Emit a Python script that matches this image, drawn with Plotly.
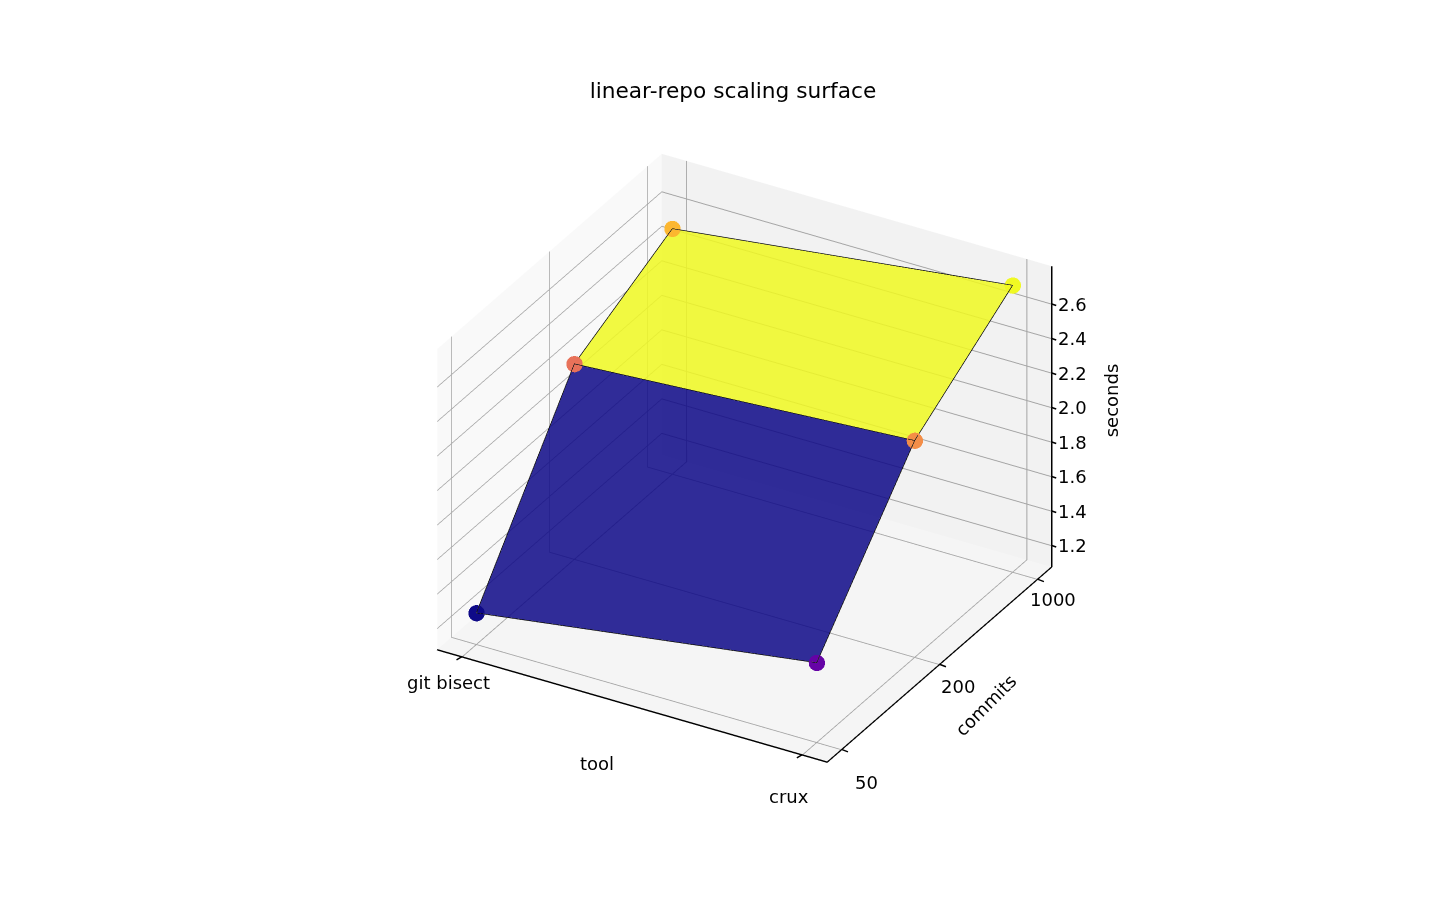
import plotly.graph_objects as go

tools = ["git bisect", "crux"]
commits = ["50", "200", "1000"]
seconds_bisect = [1.26, 2.21, 2.50]
seconds_crux = [1.54, 2.334, 2.74]
z_ticks = [1.2, 1.4, 1.6, 1.8, 2.0, 2.2, 2.4, 2.6]

x_range = [-0.073, 1.073]
y_range = [-0.146, 2.146]
z_range = [1.077, 2.82]

tool_pos = list(range(len(tools)))
commit_pos = list(range(len(commits)))

xs, ys, zs = [], [], []
for c in commit_pos:
    for t, col in zip(tool_pos, [seconds_bisect, seconds_crux]):
        xs.append(t)
        ys.append(c)
        zs.append(col[c])

fig = go.Figure()

# two quads, each split in two triangles, coloured by height like the original
fig.add_trace(go.Mesh3d(
    x=xs, y=ys, z=zs,
    i=[0, 1, 2, 3],
    j=[1, 3, 3, 5],
    k=[2, 2, 4, 4],
    facecolor=["#0d0887", "#0d0887", "#f0f921", "#f0f921"],
    opacity=0.85,
    flatshading=True,
    lighting=dict(ambient=1, diffuse=0, specular=0, roughness=1, fresnel=0),
    hoverinfo="skip",
))

# edges of the surface
edge_order = [0, 1, 3, 2, 0, None, 2, 4, 5, 3]
fig.add_trace(go.Scatter3d(
    x=[None if n is None else xs[n] for n in edge_order],
    y=[None if n is None else ys[n] for n in edge_order],
    z=[None if n is None else zs[n] for n in edge_order],
    mode="lines",
    line=dict(color="black", width=1.5),
    hoverinfo="skip",
))

# z spine sits on the right hand corner, plotly would put it on the left
fig.add_trace(go.Scatter3d(
    x=[x_range[1], x_range[1]],
    y=[y_range[1], y_range[1]],
    z=z_range,
    mode="lines",
    line=dict(color="black", width=3),
    hoverinfo="skip",
))

fig.add_trace(go.Scatter3d(
    x=xs, y=ys, z=zs,
    mode="markers",
    marker=dict(size=9.5, color=zs, colorscale="Plasma", line=dict(width=0), opacity=0.99),
))

tick_font = dict(family="DejaVu Sans", size=18, color="black")


def label(x, y, z, text, dx, dy, angle=0):
    return dict(x=x, y=y, z=z, text=text, showarrow=False, xshift=dx, yshift=-dy,
                xanchor="center", yanchor="middle", textangle=angle, font=tick_font)


def tick(x, y, z, dx, dy):
    return dict(x=x, y=y, z=z, text="", showarrow=True, arrowhead=0, arrowwidth=1.5,
                arrowcolor="black", standoff=0, ax=dx, ay=dy)


# pixel offsets of the tick labels from their axis, per label
tool_offsets = [(-14, 26), (-13, 42)]
commit_offsets = [(25, 33), (19, 22), (16, 20)]

notes = []
for pos, name, off in zip(tool_pos, tools, tool_offsets):
    notes.append(tick(pos, y_range[0], z_range[0], -7, 4))
    notes.append(label(pos, y_range[0], z_range[0], name, *off))
for pos, name, off in zip(commit_pos, commits, commit_offsets):
    notes.append(tick(x_range[1], pos, z_range[0], 8, 3))
    notes.append(label(x_range[1], pos, z_range[0], name, *off))
for val in z_ticks:
    notes.append(tick(x_range[1], y_range[1], val, 6, 2))
    notes.append(label(x_range[1], y_range[1], val, f"{val:.1f}", 21, 0))
notes.append(label(0.5, y_range[0], z_range[0], "tool", -35, 58))
notes.append(label(x_range[1], 1, z_range[0], "commits", 46, 41, -45))
notes.append(label(x_range[1], y_range[1], 2.0, "seconds", 60, -7, -90))

axis_common = dict(
    showbackground=True,
    gridcolor="#a4a4a4",
    gridwidth=2,
    zeroline=False,
    showticklabels=False,
    ticks="",
    title=dict(text=""),
    showspikes=False,
)

fig.update_layout(
    width=1430,
    height=910,
    paper_bgcolor="white",
    showlegend=False,
    font=dict(family="DejaVu Sans", size=18, color="black"),
    margin=dict(l=0, r=0, t=0, b=0),
    title=dict(text="linear-repo scaling surface", x=0.507, y=0.909, xanchor="center", yanchor="middle",
               font=dict(family="DejaVu Sans", size=21.7, color="black")),
    scene=dict(
        domain=dict(x=[0.03, 1], y=[0.0114, 1]),
        aspectmode="manual",
        aspectratio=dict(x=1, y=1, z=0.772),
        camera=dict(
            eye=dict(x=0.920, y=-1.598, z=1.066),
            center=dict(x=0, y=0, z=0),
            up=dict(x=0, y=0, z=1),
            projection=dict(type="orthographic"),
        ),
        xaxis=dict(axis_common, tickvals=tool_pos, range=x_range, backgroundcolor="#f9f9f9",
                   showline=True, linecolor="black", linewidth=3),
        yaxis=dict(axis_common, tickvals=commit_pos, range=y_range, backgroundcolor="#f2f2f2",
                   showline=True, linecolor="black", linewidth=3),
        zaxis=dict(axis_common, tickvals=z_ticks, range=z_range, backgroundcolor="#f5f5f5",
                   showline=False),
        annotations=notes,
    ),
)

fig.write_html("out.html")
